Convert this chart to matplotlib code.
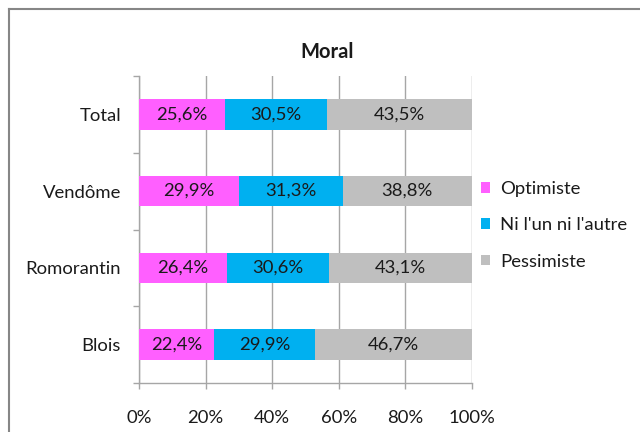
import matplotlib
matplotlib.use("Agg")
import matplotlib.pyplot as plt
from matplotlib.patches import Patch
from matplotlib.lines import Line2D
import numpy as np

plt.rcParams['font.family'] = ['Lato', 'DejaVu Sans']

categories = ["Blois", "Romorantin", "Vendôme", "Total"]
series_names = ["Optimiste", "Ni l'un ni l'autre", "Pessimiste"]
optimiste = [22.4, 26.4, 29.9, 25.6]
ni_ni = [29.9, 30.6, 31.3, 30.5]
pessimiste = [46.7, 43.1, 38.8, 43.5]
x_ticks = [0, 20, 40, 60, 80, 100]
x_labels = ["0%", "20%", "40%", "60%", "80%", "100%"]
title = "Moral"

colors = ["#FF5FFF", "#00B0F0", "#BFBFBF"]
grid_col = "#A6A6A6"
text_col = "#1A1A1A"
fs = 13.3

W, H = 640, 432
fig = plt.figure(figsize=(W / 100, H / 100), dpi=100)
ax = fig.add_axes([139 / W, 1 - 383 / H, (472 - 139) / W, (383 - 76) / H])

series = [np.array(s, dtype=float) for s in (optimiste, ni_ni, pessimiste)]
totals = sum(series)
y = np.arange(len(categories))
left = np.zeros(len(categories))
for v, col in zip(series, colors):
    w = v / totals * 100  # 100% stacked
    ax.barh(y, w, left=left, height=0.40, color=col, zorder=3)
    for yi, (l, wi, vi) in enumerate(zip(left, w, v)):
        ax.text(l + wi / 2, yi, f"{vi:.1f}%".replace(".", ","), ha="center", va="center",
                fontsize=fs, color=text_col, zorder=4)
    left = left + w

ax.set_xlim(0, 100)
ax.set_ylim(-0.5, len(categories) - 0.5)
ax.set_xticks(x_ticks)
ax.set_xticklabels(x_labels, fontsize=fs, color=text_col)
ax.set_yticks(y)
ax.set_yticklabels(categories, fontsize=fs, color=text_col)
ax.set_yticks(np.arange(-0.5, len(categories)), minor=True)

ax.xaxis.grid(True, color=grid_col, lw=1.0, zorder=0)
ax.set_axisbelow(True)
for s in ["top", "right"]:
    ax.spines[s].set_visible(False)
for s in ["left", "bottom"]:
    ax.spines[s].set_color(grid_col)
    ax.spines[s].set_linewidth(1.0)

ax.tick_params(axis="y", which="major", length=0, pad=13)
ax.tick_params(axis="y", which="minor", length=4.3, color=grid_col, width=1.0)
ax.tick_params(axis="x", which="major", length=4.3, color=grid_col, width=1.0, pad=15)

fig.text(327 / W, 1 - 52 / H, title, ha="center", va="center", fontsize=14.5,
         fontweight="bold", color=text_col)

handles = [Patch(facecolor=c, edgecolor="none") for c in colors]
fig.legend(handles, series_names, loc="upper left",
           bbox_to_anchor=(481 / W, 1 - 181 / H), frameon=False, fontsize=fs,
           handlelength=0.5, handleheight=0.5, handletextpad=0.55,
           labelspacing=1.1, borderpad=0, borderaxespad=0, labelcolor=text_col)

border_col = "#868686"
fig.add_artist(Line2D([9 / W, 9 / W], [0, 1 - 9 / H], color=border_col, lw=1.5,
                      transform=fig.transFigure))
fig.add_artist(Line2D([9 / W, 1], [1 - 9 / H, 1 - 9 / H], color=border_col, lw=1.5,
                      transform=fig.transFigure))

fig.savefig("out.png", dpi=100)
